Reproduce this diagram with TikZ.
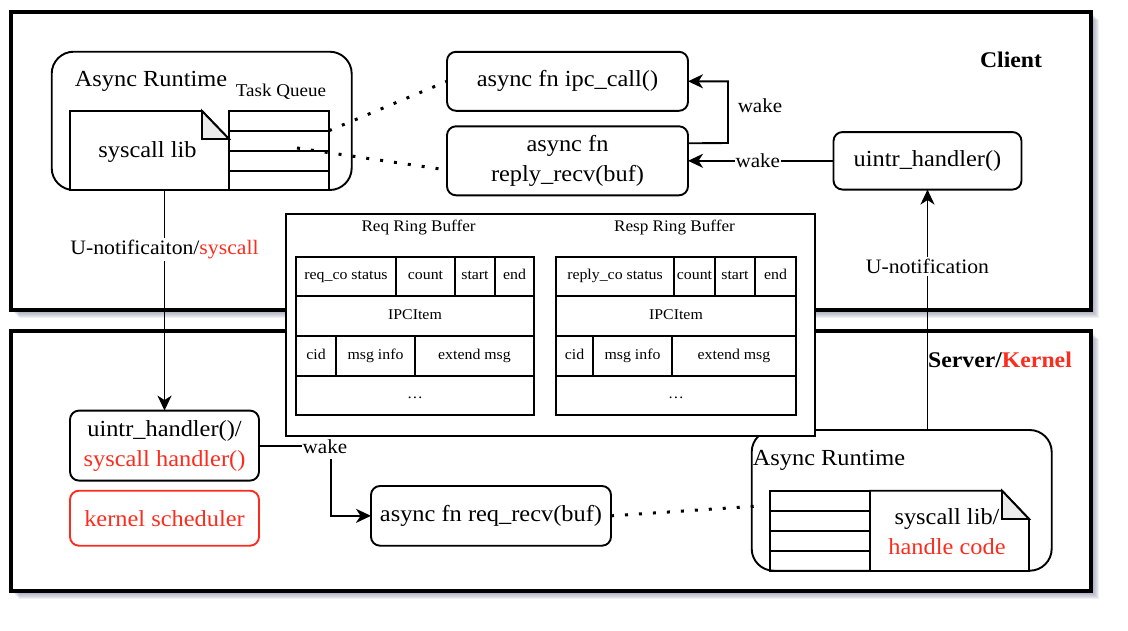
\documentclass[tikz,border=0pt]{standalone}
\usepackage{fontspec}
\setmainfont{Liberation Serif}[FakeStretch=1.06]
\usetikzlibrary{arrows.meta}
\definecolor{myred}{RGB}{250,45,30}
\definecolor{shadowc}{RGB}{100,105,140}
\definecolor{foldgray}{RGB}{236,236,236}
\begin{document}
\begin{tikzpicture}[x=1pt,y=-1pt,
  every node/.style={inner sep=0pt,outer sep=0pt},
  outerbox/.style={draw=black,line width=4pt,fill=white,anchor=north west},
  rbox/.style={draw=black,line width=1.9pt,rounded corners=9pt,fill=white,align=center,font=\fontsize{23}{30}\selectfont},
  runtime/.style={draw=black,line width=1.9pt,rounded corners=22pt,fill=white,anchor=north west},
  txt/.style={align=center,font=\fontsize{23}{30}\selectfont},
  small/.style={align=center,font=\fontsize{19.9}{22}\selectfont},
  mid/.style={align=center,font=\fontsize{20.5}{22}\selectfont},
  cell/.style={draw=black,line width=2pt,anchor=north west,align=center,font=\fontsize{14.95}{17}\selectfont,text height=10.2pt,text depth=3.1pt},
  doc/.style={draw=black,line width=1.9pt,fill=white,line join=miter},
  fold/.style={draw=black,line width=1.9pt,fill=foldgray},
  arr/.style={draw=black,line width=1.9pt,-{Stealth[length=15pt,width=14pt,inset=4.5pt]}},
  conn/.style={draw=black,line width=1.9pt},
  dots/.style={draw=black,line width=3pt,dash pattern=on 3pt off 11pt},
  lbl/.style={fill=white,inner xsep=1pt,inner ysep=2pt},
]
\useasboundingbox (0,0) rectangle (1128,630);
% shadows
\foreach \i in {1,...,8}{
  \fill[shadowc,opacity=0.1] (11+\i,12+\i) rectangle (1091+\i,310+\i);
  \fill[shadowc,opacity=0.1] (11+\i,331+\i) rectangle (1091+\i,591+\i);
}
% outer boxes
\node[outerbox,minimum width=1080pt,minimum height=298pt] (client) at (11,12) {};
\node[outerbox,minimum width=1080pt,minimum height=260pt] (server) at (11,331) {};
\node[font=\bfseries\fontsize{22.4}{26}\selectfont] (clientlbl) at (1011,60) {Client};
\node[font=\bfseries\fontsize{22.4}{26}\selectfont] (serverlbl) at (1000,360) {Server/\textcolor{myred}{Kernel}};

% client runtime
\node[runtime,minimum width=300pt,minimum height=138.3pt] (crt) at (51.7,51.7) {};
\node[txt] (crtlbl) at (151,81.7) {Async Runtime};
\node[txt,font=\fontsize{18}{20}\selectfont] (tq) at (281,92) {Task Queue};
\draw[doc] (70,111) -- (202,111) -- (229,139) -- (229,190) -- (70,190) -- cycle;
\draw[fold] (202,111) -- (202,139) -- (229,139) -- cycle;
\node[txt] (clib) at (147.5,152) {syscall lib};
\draw[conn] (229,111) rectangle (329,190);
\draw[conn] (229,130.7) -- (329,130.7);
\draw[conn] (229,150.7) -- (329,150.7);
\draw[conn] (229,171) -- (329,171);

% client boxes
\node[rbox,minimum width=241pt,minimum height=59pt] (ipc) at (567.5,81.3) {async fn ipc\_call()};
\node[rbox,minimum width=241pt,minimum height=69pt] (reply) at (567.5,160.8) {async fn\\reply\_recv(buf)};
\node[rbox,minimum width=188pt,minimum height=57.5pt] (cuh) at (927.5,160.8) {uintr\_handler()};

\coordinate (d1) at (329,130.7);
\coordinate (d2) at (297,148);
\draw[dots] (d1) -- (ipc.west);
\draw[dots] (d2) -- ([yshift=-9.2pt]reply.west);

\draw[arr] ([yshift=17.5pt]reply.east) -- (728,143) -- (728,81.3) -- (ipc.east);
\node[small] (wake1) at (760,106) {wake};
\draw[arr] (cuh.west) -- node[lbl,small,pos=0.52] (wake2) {wake} (reply.east);

% server boxes
\node[rbox,minimum width=189pt,minimum height=70pt] (uh) at (164.5,445.6) {uintr\_handler()/\\\textcolor{myred}{syscall handler()}};
\node[rbox,draw=myred,text=myred,minimum width=189pt,minimum height=55pt] (ks) at (164.5,518.2) {kernel scheduler};
\node[rbox,minimum width=240pt,minimum height=59.7pt] (rr) at (491,515.85) {async fn req\_recv(buf)};

% server runtime
\node[runtime,minimum width=300pt,minimum height=140.7pt] (srt) at (751.7,430) {};
\node[txt] (srtlbl) at (829,460.7) {Async Runtime};
\draw[doc] (870,490.7) -- (1002,490.7) -- (1029,519) -- (1029,571) -- (870,571) -- cycle;
\draw[fold] (1002,490.7) -- (1002,519) -- (1029,519) -- cycle;
\draw[conn] (770,490.7) rectangle (870,571);
\draw[conn] (770,510.7) -- (870,510.7);
\draw[conn] (770,530.7) -- (870,530.7);
\draw[conn] (770,551) -- (870,551);
\node[txt] (slib) at (947,531.7) {syscall lib/\\\textcolor{myred}{handle code}};

\coordinate (d3) at (758,506);
\draw[dots] (rr.east) -- (d3);

% vertical notifications
\draw[arr] (uh.north |- crt.south) -- node[lbl,mid,pos=0.27] (unots) {U-notificaiton/\textcolor{myred}{syscall}} (uh.north);
\draw[arr] (srt.north -| cuh.south) -- node[lbl,mid,pos=0.68] (unot) {U-notification} (cuh.south);

% wake in server
\coordinate (wk) at (331,445.6);
\draw[arr] (uh.east) -- (wk) |- (rr.west);
\node[small,fill=white,inner xsep=1pt,inner ysep=5pt] (wake3) at (325,447) {wake};

% ring buffers
\node[draw=black,line width=2.5pt,fill=white,minimum width=529pt,minimum height=222pt,anchor=north west] (ring) at (286,214) {};
\node[font=\fontsize{16.2}{18}\selectfont] (reqt) at (418.6,228) {Req Ring Buffer};
\node[font=\fontsize{16.2}{18}\selectfont] (respt) at (674.5,228) {Resp Ring Buffer};

\node[cell,minimum width=100pt,minimum height=39.5pt] (q11) at (296,256.5) {req\_co status};
\node[cell,minimum width=59pt,minimum height=39.5pt] (q12) at (396,256.5) {count};
\node[cell,minimum width=40pt,minimum height=39.5pt] (q13) at (455,256.5) {start};
\node[cell,minimum width=39pt,minimum height=39.5pt] (q14) at (495,256.5) {end};
\node[cell,minimum width=238pt,minimum height=40pt] (q2) at (296,296) {IPCItem};
\node[cell,minimum width=40pt,minimum height=39.5pt] (q31) at (296,336) {cid};
\node[cell,minimum width=79pt,minimum height=39.5pt] (q32) at (336,336) {msg info};
\node[cell,minimum width=119pt,minimum height=39.5pt] (q33) at (415,336) {extend msg};
\node[cell,minimum width=238pt,minimum height=39.5pt] (q4) at (296,375.5) {\dots};

\node[cell,minimum width=118pt,minimum height=39.5pt] (p11) at (556,256.5) {reply\_co status};
\node[cell,minimum width=41pt,minimum height=39.5pt] (p12) at (674,256.5) {count};
\node[cell,minimum width=40pt,minimum height=39.5pt] (p13) at (715,256.5) {start};
\node[cell,minimum width=41pt,minimum height=39.5pt] (p14) at (755,256.5) {end};
\node[cell,minimum width=240pt,minimum height=40pt] (p2) at (556,296) {IPCItem};
\node[cell,minimum width=37pt,minimum height=39.5pt] (p31) at (556,336) {cid};
\node[cell,minimum width=79pt,minimum height=39.5pt] (p32) at (593,336) {msg info};
\node[cell,minimum width=124pt,minimum height=39.5pt] (p33) at (672,336) {extend msg};
\node[cell,minimum width=240pt,minimum height=39.5pt] (p4) at (556,375.5) {\dots};
\end{tikzpicture}
\end{document}
